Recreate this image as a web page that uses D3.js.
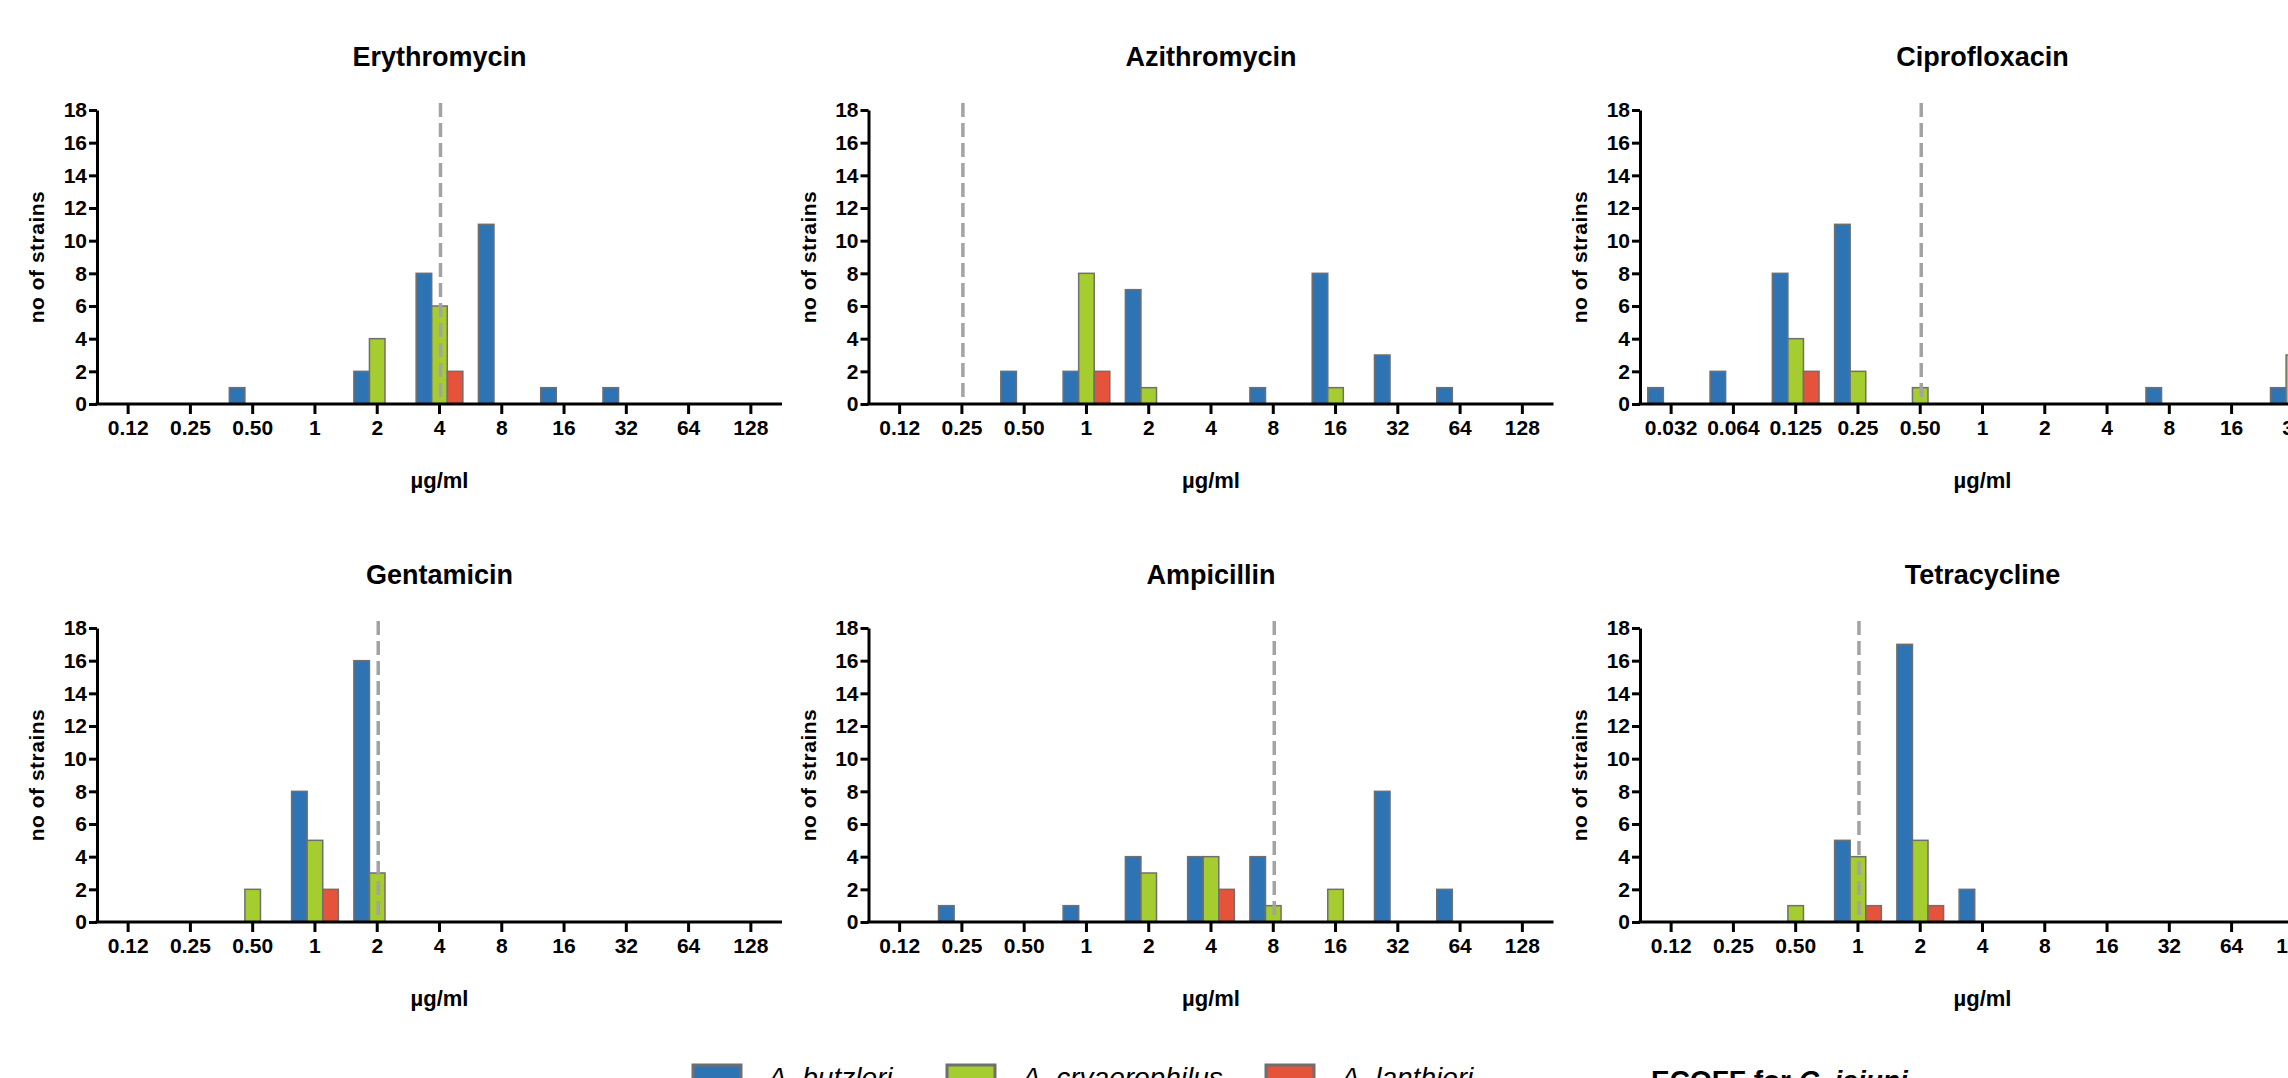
<!DOCTYPE html>
<html>
<head>
<meta charset="utf-8">
<script src="https://cdn.jsdelivr.net/npm/d3@7"></script>
<style>
  body { margin: 0; overflow: hidden; background: #fff; }
  text { font-family: "Liberation Sans", Arial, sans-serif; fill: #000; }
</style>
</head>
<body>
<div id="chart"></div>
<script>
// MIC categories (µg/ml)
const cats = ["0.12", "0.25", "0.50", "1", "2", "4", "8", "16", "32", "64", "128"];
const ciproCats = ["0.032", "0.064", "0.125", "0.25", "0.50", "1", "2", "4", "8", "16", "32"];

const drugs = ["Erythromycin", "Azithromycin", "Ciprofloxacin", "Gentamicin", "Ampicillin", "Tetracycline"];
const species = ["A. butzleri", "A. cryaerophilus", "A. lanthieri"];
const colors = ["#2E74B5", "#A5CD30", "#E4533A"];

// number of strains per category, one row per drug (same order as drugs)
const butzleri = [
  [0, 0, 1, 0, 2, 8, 11, 1, 1, 0, 0],
  [0, 0, 2, 2, 7, 0, 1, 8, 3, 1, 0],
  [1, 2, 8, 11, 0, 0, 0, 0, 1, 0, 1],
  [0, 0, 0, 8, 16, 0, 0, 0, 0, 0, 0],
  [0, 1, 0, 1, 4, 4, 4, 0, 8, 2, 0],
  [0, 0, 0, 5, 17, 2, 0, 0, 0, 0, 0]
];
const cryaerophilus = [
  [0, 0, 0, 0, 4, 6, 0, 0, 0, 0, 0],
  [0, 0, 0, 8, 1, 0, 0, 1, 0, 0, 0],
  [0, 0, 4, 2, 1, 0, 0, 0, 0, 0, 3],
  [0, 0, 2, 5, 3, 0, 0, 0, 0, 0, 0],
  [0, 0, 0, 0, 3, 4, 1, 2, 0, 0, 0],
  [0, 0, 1, 4, 5, 0, 0, 0, 0, 0, 0]
];
const lanthieri = [
  [0, 0, 0, 0, 0, 2, 0, 0, 0, 0, 0],
  [0, 0, 0, 2, 0, 0, 0, 0, 0, 0, 0],
  [0, 0, 2, 0, 0, 0, 0, 0, 0, 0, 0],
  [0, 0, 0, 2, 0, 0, 0, 0, 0, 0, 0],
  [0, 0, 0, 0, 0, 2, 0, 0, 0, 0, 0],
  [0, 0, 0, 1, 1, 0, 0, 0, 0, 0, 0]
];
// ECOFF for C. jejuni (dashed line)
const ecoff = ["4", "0.25", "0.50", "2", "8", "1"];
const yTicks = [0, 2, 4, 6, 8, 10, 12, 14, 16, 18];

const W = 2288, H = 1078;
const pw = 685, ph = 294;
const colStep = 771.5, rowStep = 518;
const left0 = 97, top0 = 110;

const svg = d3.select("#chart").append("svg")
  .attr("width", W)
  .attr("height", H);

const y = d3.scaleLinear().domain([0, 18]).range([ph, 0]);

drugs.forEach((drug, i) => {
  const col = i % 3, row = Math.floor(i / 3);
  const categories = drug === "Ciprofloxacin" ? ciproCats : cats;

  const x = d3.scaleBand()
    .domain(categories)
    .range([0, pw])
    .paddingInner(0.25)
    .paddingOuter(0.125);

  const xs = d3.scaleBand()
    .domain(species)
    .range([0, x.bandwidth()]);

  const g = svg.append("g")
    .attr("transform", `translate(${left0 + col * colStep},${top0 + row * rowStep})`);

  // bars
  const rows = [butzleri[i], cryaerophilus[i], lanthieri[i]];
  species.forEach((sp, s) => {
    const vals = categories.map((c, k) => ({ c, v: rows[s][k] })).filter(d => d.v > 0);
    g.selectAll(null)
      .data(vals)
      .enter()
      .append("rect")
      .attr("x", d => x(d.c) + xs(sp))
      .attr("y", d => y(d.v))
      .attr("width", xs.bandwidth())
      .attr("height", d => y(0) - y(d.v))
      .attr("fill", colors[s])
      .attr("stroke", "#6f6f6f")
      .attr("stroke-width", 1.5);
  });

  // ECOFF line
  const ex = x(ecoff[i]) + x.bandwidth() / 2 + 1;
  g.append("line")
    .attr("x1", ex).attr("x2", ex)
    .attr("y1", -7).attr("y2", ph)
    .attr("stroke", "#a3a3a3")
    .attr("stroke-width", 3.5)
    .attr("stroke-dasharray", "14,6");

  // axes
  const xAxis = g.append("g")
    .attr("transform", `translate(0,${ph})`)
    .call(d3.axisBottom(x).tickSize(10).tickSizeOuter(0).tickPadding(6));

  const yAxis = g.append("g")
    .call(d3.axisLeft(y).tickValues(yTicks).tickSize(8).tickSizeOuter(0).tickPadding(2));

  [xAxis, yAxis].forEach(a => {
    a.selectAll("path, line").attr("stroke", "#000").attr("stroke-width", 3);
    a.selectAll("text")
      .style("font-family", '"Liberation Sans", Arial, sans-serif')
      .style("font-size", "21px")
      .style("font-weight", "bold")
      .attr("fill", "#000");
  });
  xAxis.select(".domain").attr("d", `M-1.5,0H${pw}`);

  // titles and axis labels
  g.append("text")
    .attr("x", pw / 2)
    .attr("y", -44)
    .attr("text-anchor", "middle")
    .style("font-size", "27px")
    .style("font-weight", "bold")
    .text(drug);

  g.append("text")
    .attr("x", pw / 2)
    .attr("y", ph + 84)
    .attr("text-anchor", "middle")
    .style("font-size", "22px")
    .style("font-weight", "bold")
    .text("µg/ml");

  g.append("text")
    .attr("transform", `translate(${-53},${ph / 2}) rotate(-90)`)
    .attr("text-anchor", "middle")
    .style("font-size", "21px")
    .style("font-weight", "bold")
    .style("letter-spacing", "0.5px")
    .text("no of strains");
});

// legend
const legX = [693, 947, 1266];
const leg = svg.append("g").attr("transform", "translate(0,1065)");
species.forEach((sp, s) => {
  leg.append("rect")
    .attr("x", legX[s]).attr("y", 0)
    .attr("width", 48).attr("height", 40)
    .attr("fill", colors[s])
    .attr("stroke", "#6f6f6f")
    .attr("stroke-width", 3);
  leg.append("text")
    .attr("x", legX[s] + 75)
    .attr("y", 22)
    .style("font-size", "28px")
    .style("font-style", "italic")
    .text(sp);
});

const ec = svg.append("text")
  .attr("x", 1651)
  .attr("y", 1090)
  .style("font-size", "28px")
  .style("font-weight", "bold");
ec.append("tspan").text("ECOFF for ");
ec.append("tspan").style("font-style", "italic").text("C. jejuni");
</script>
</body>
</html>
